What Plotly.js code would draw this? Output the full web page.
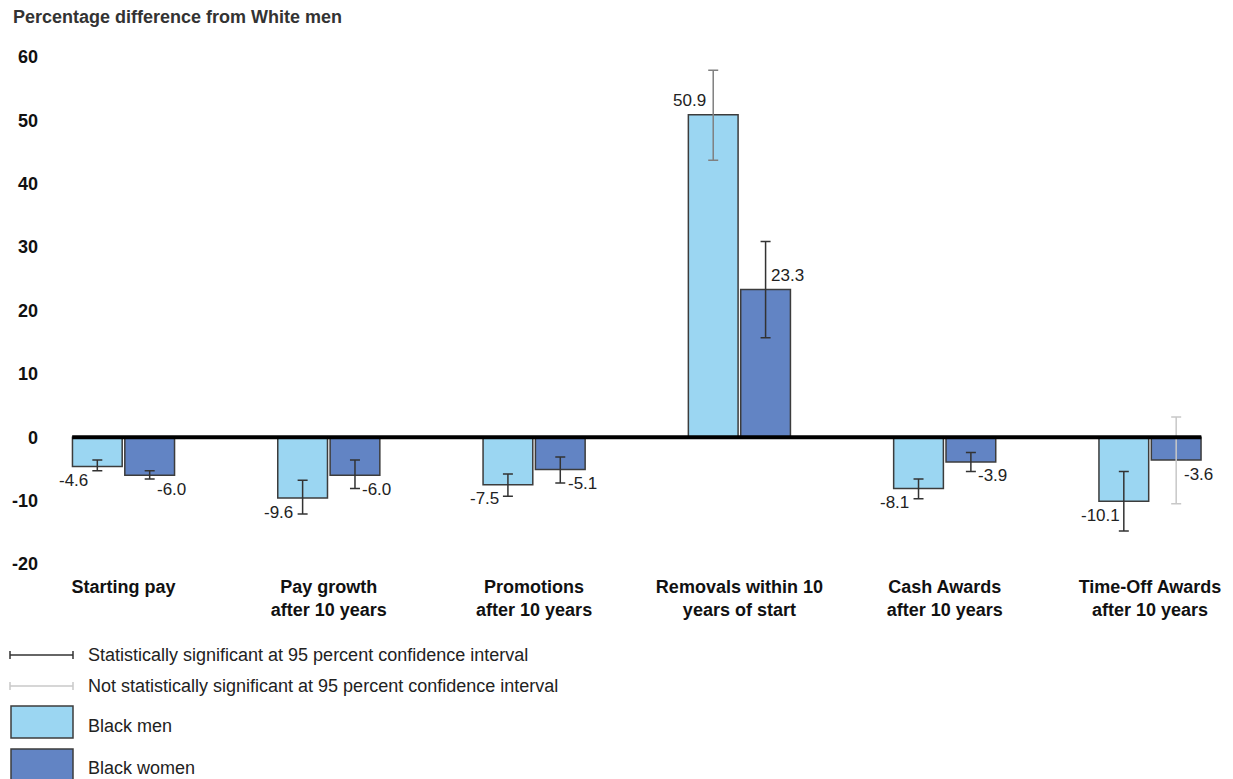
<!DOCTYPE html>
<html>
<head>
<meta charset="utf-8">
<script src="https://cdn.plot.ly/plotly-3.0.1.min.js"></script>
<style>
  html, body { margin: 0; padding: 0; background: #ffffff; }
  #chart { width: 1233px; height: 779px; }
</style>
</head>
<body>
<div id="chart"></div>
<script>
// Outcome categories
const categories = [
  "Starting pay",
  "Pay growth<br>after 10 years",
  "Promotions<br>after 10 years",
  "Removals within 10<br>years of start",
  "Cash Awards<br>after 10 years",
  "Time-Off Awards<br>after 10 years"
];

// Percentage difference from White men
const blackMen   = [-4.6, -9.6, -7.5, 50.9, -8.1, -10.1];
const blackWomen = [-6.0, -6.0, -5.1, 23.3, -3.9, -3.6];

// 95 percent confidence interval bounds
const menLow    = [-5.3, -12.1, -9.3, 43.7, -9.7, -14.8];
const menHigh   = [-3.6,  -6.8, -5.8, 57.9, -6.6,  -5.4];
const womenLow  = [-6.6,  -8.1, -7.2, 15.7, -5.4, -10.5];
const womenHigh = [-5.3,  -3.6, -3.1, 30.9, -2.4,   3.2];

// Error bar tone per point (dark = significant, light = not significant)
const menTone   = ["dark", "dark", "dark", "mid", "dark", "dark"];
const womenTone = ["dark", "dark", "dark", "dark", "dark", "light"];

const yTicks = [-20, -10, 0, 10, 20, 30, 40, 50, 60];

const toneColor = { dark: "#333333", mid: "#808080", light: "#c8c8c8" };
const menColor = "#9bd6f2";
const womenColor = "#6284c4";
const outline = "#3c3c3c";
const FONT = "Liberation Sans, Arial, Helvetica, sans-serif";

// Plot area geometry (pixels)
const W = 1233, H = 779;
const M = { l: 40, r: 23, t: 57.3, b: 215 };
const plotW = W - M.l - M.r, plotH = H - M.t - M.b;
const px2x = px => (px - M.l) / plotW;
const py2y = py => (H - M.b - py) / plotH;

const idx = categories.map((_, i) => i);

function barTrace(name, values, color, group) {
  return {
    type: "bar", name: name, x: idx, y: values, offsetgroup: group,
    marker: { color: color, line: { color: outline, width: 1.5 } },
    hoverinfo: "skip", showlegend: false
  };
}

// Transparent overlay bars in the same slot carry the confidence intervals,
// one trace per tone so each can take its own colour.
function errorTraces(values, low, high, tones, group) {
  const out = [];
  Object.keys(toneColor).forEach(tone => {
    if (!tones.includes(tone)) return;
    const y = values.map((v, i) => tones[i] === tone ? v : null);
    out.push({
      type: "bar", x: idx, y: y, offsetgroup: group,
      marker: { color: "rgba(0,0,0,0)", line: { width: 0 } },
      error_y: {
        type: "data", symmetric: false,
        array: values.map((v, i) => high[i] - v),
        arrayminus: values.map((v, i) => v - low[i]),
        color: toneColor[tone], thickness: 1.5, width: 5
      },
      hoverinfo: "skip", showlegend: false
    });
  });
  return out;
}

const data = [
  barTrace("Black men", blackMen, menColor, "men"),
  barTrace("Black women", blackWomen, womenColor, "women"),
  ...errorTraces(blackMen, menLow, menHigh, menTone, "men"),
  ...errorTraces(blackWomen, womenLow, womenHigh, womenTone, "women")
];

// Value labels beside the error bars
const annotations = [];
function valueLabels(values, xshift) {
  values.forEach((v, i) => {
    annotations.push({
      x: i, y: v, xref: "x", yref: "y", text: v.toFixed(1), showarrow: false,
      xshift: xshift, yshift: v < 0 ? -14 : 14,
      font: { family: FONT, size: 17, color: "#222222" }
    });
  });
}
valueLabels(blackMen, -50);
valueLabels(blackWomen, 48);

// Legend drawn as shapes and text below the chart
const shapes = [
  // zero baseline
  { type: "line", xref: "x", yref: "y", x0: -0.25, x1: 5.25, y0: 0, y1: 0,
    line: { color: "#000000", width: 4 }, layer: "above" }
];
function capLine(py, color) {
  shapes.push({ type: "line", xref: "paper", yref: "paper",
    x0: px2x(10), x1: px2x(73), y0: py2y(py), y1: py2y(py), line: { color: color, width: 1.5 } });
  [10, 73].forEach(px => shapes.push({ type: "line", xref: "paper", yref: "paper",
    x0: px2x(px), x1: px2x(px), y0: py2y(py - 4), y1: py2y(py + 4), line: { color: color, width: 1.5 } }));
}
capLine(655, toneColor.dark);
capLine(686, toneColor.light);
shapes.push({ type: "rect", xref: "paper", yref: "paper",
  x0: px2x(11), x1: px2x(73), y0: py2y(706), y1: py2y(738),
  fillcolor: menColor, line: { color: outline, width: 1.5 } });
shapes.push({ type: "rect", xref: "paper", yref: "paper",
  x0: px2x(11), x1: px2x(73), y0: py2y(749), y1: py2y(795),
  fillcolor: womenColor, line: { color: outline, width: 1.5 } });

const legendText = [
  ["Statistically significant at 95 percent confidence interval", 655],
  ["Not statistically significant at 95 percent confidence interval", 686],
  ["Black men", 726],
  ["Black women", 768]
];
legendText.forEach(([t, py]) => annotations.push({
  xref: "paper", yref: "paper", x: px2x(86), y: py2y(py), xanchor: "left", yanchor: "middle",
  text: t, showarrow: false, font: { family: FONT, size: 18, color: "#222222" }
}));

const layout = {
  width: W, height: H,
  margin: M,
  paper_bgcolor: "#ffffff", plot_bgcolor: "#ffffff",
  font: { family: FONT, color: "#222222" },
  title: {
    text: "Percentage difference from White men",
    xref: "container", yref: "container", x: 13 / W, y: 1 - 17 / H,
    xanchor: "left", yanchor: "middle",
    font: { family: FONT, size: 18, weight: 700, color: "#333333" }
  },
  barmode: "group", bargap: 0.49, bargroupgap: 0.05,
  xaxis: {
    type: "linear", range: [-(123.5 - M.l) / 205.3, (M.l + plotW - 123.5) / 205.3],
    tickvals: idx, ticktext: categories, ticks: "", showgrid: false, zeroline: false,
    showline: false, ticklabelstandoff: 10,
    tickfont: { family: FONT, size: 18, weight: 700, color: "#111111" }
  },
  yaxis: {
    range: [-20, 60], tickvals: yTicks, ticktext: yTicks.map(String), ticks: "",
    showgrid: false, zeroline: false, showline: false, ticklabelstandoff: 1,
    tickfont: { family: FONT, size: 18, weight: 700, color: "#111111" }
  },
  shapes: shapes,
  annotations: annotations,
  showlegend: false
};

Plotly.newPlot("chart", data, layout, { displayModeBar: false, staticPlot: true });
</script>
</body>
</html>
